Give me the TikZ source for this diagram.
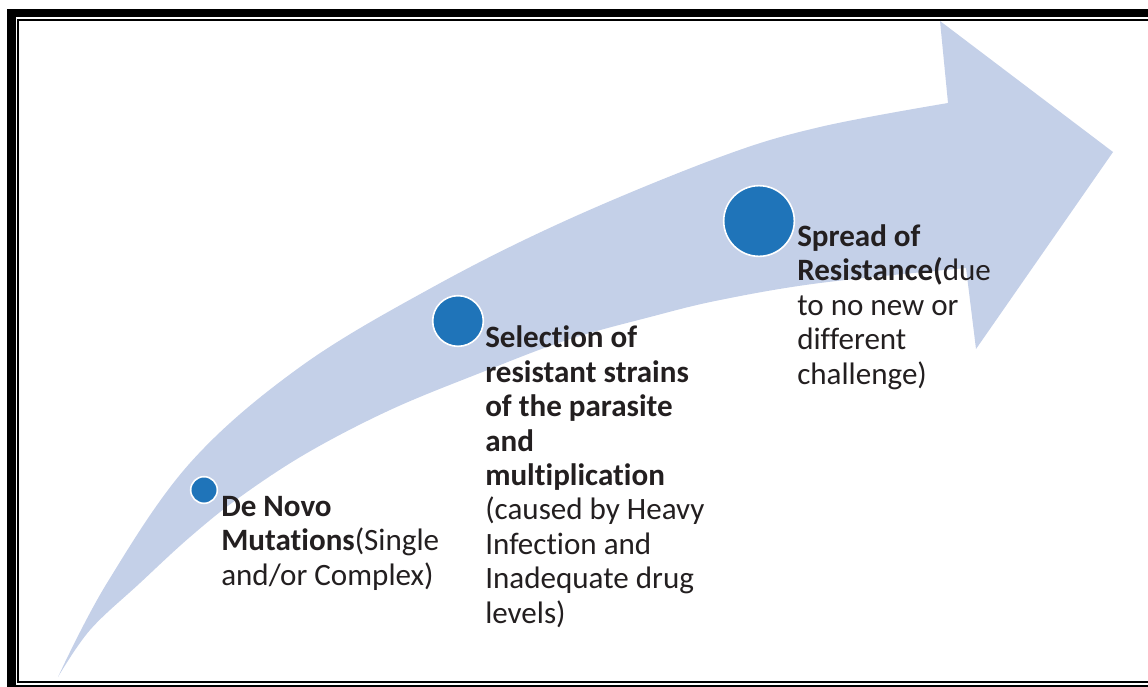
\documentclass[tikz,border=0pt]{standalone}
\usepackage{fontspec}
\setmainfont{Carlito}[Ligatures=NoCommon]
\usetikzlibrary{calc}

\definecolor{arrowblue}{RGB}{196,208,232}
\definecolor{dotblue}{RGB}{31,116,185}
\definecolor{inkgray}{RGB}{35,31,32}

\begin{document}
\begin{tikzpicture}[x=0.75pt,y=-0.75pt,
  stage/.style={circle,fill=dotblue,draw=white,line width=1.2pt,inner sep=0pt},
  label/.style={anchor=base west,inner sep=0pt,align=left,text=inkgray,
    font=\fontsize{23.3}{25.8}\selectfont}]
\useasboundingbox (0,0) rectangle (1148,686);

% frame
\draw[line width=6.2pt] (11.5,13) rectangle (1170,689);
\draw[line width=1.5pt] (18,20) rectangle (1170,682);

% curved arrow
\fill[arrowblue] plot[smooth,tension=0.6] coordinates {(58,677) (107,583) (190,463) (300,367)
    (433,287) (567,220) (720,157) (820,127) (948,103)}
  -- (940,21) -- (1113,152) -- (976,349) -- (966,268)
  -- plot[smooth,tension=0.6] coordinates {(966,268) (820,283) (720,300) (650,317) (567,340)
    (480,373) (390,410) (307,453) (240,497) (190,537) (140,583) (90,630) (58,677)}
  -- cycle;

% stages
\node[stage,minimum size=20pt] (s1) at (204,490) {};
\node[stage,minimum size=38pt] (s2) at (458,321) {};
\node[stage,minimum size=53pt] (s3) at (759,221) {};

% texts (base = last line)
\node[label] (t1) at (221,585) {\textbf{De Novo}\\\textbf{Mutations}(Single\\and/or Complex)};
\node[label] (t2) at (485,623) {\textbf{Selection of}\\\textbf{resistant strains}\\\textbf{of the parasite}\\\textbf{and}\\\textbf{multiplication}\\(caused by Heavy\\Infection and\\Inadequate drug\\levels)};
\node[label] (t3) at (797,384) {\textbf{Spread of}\\\textbf{Resistance(}due\\to no new or\\different\\challenge)};
\end{tikzpicture}
\end{document}
